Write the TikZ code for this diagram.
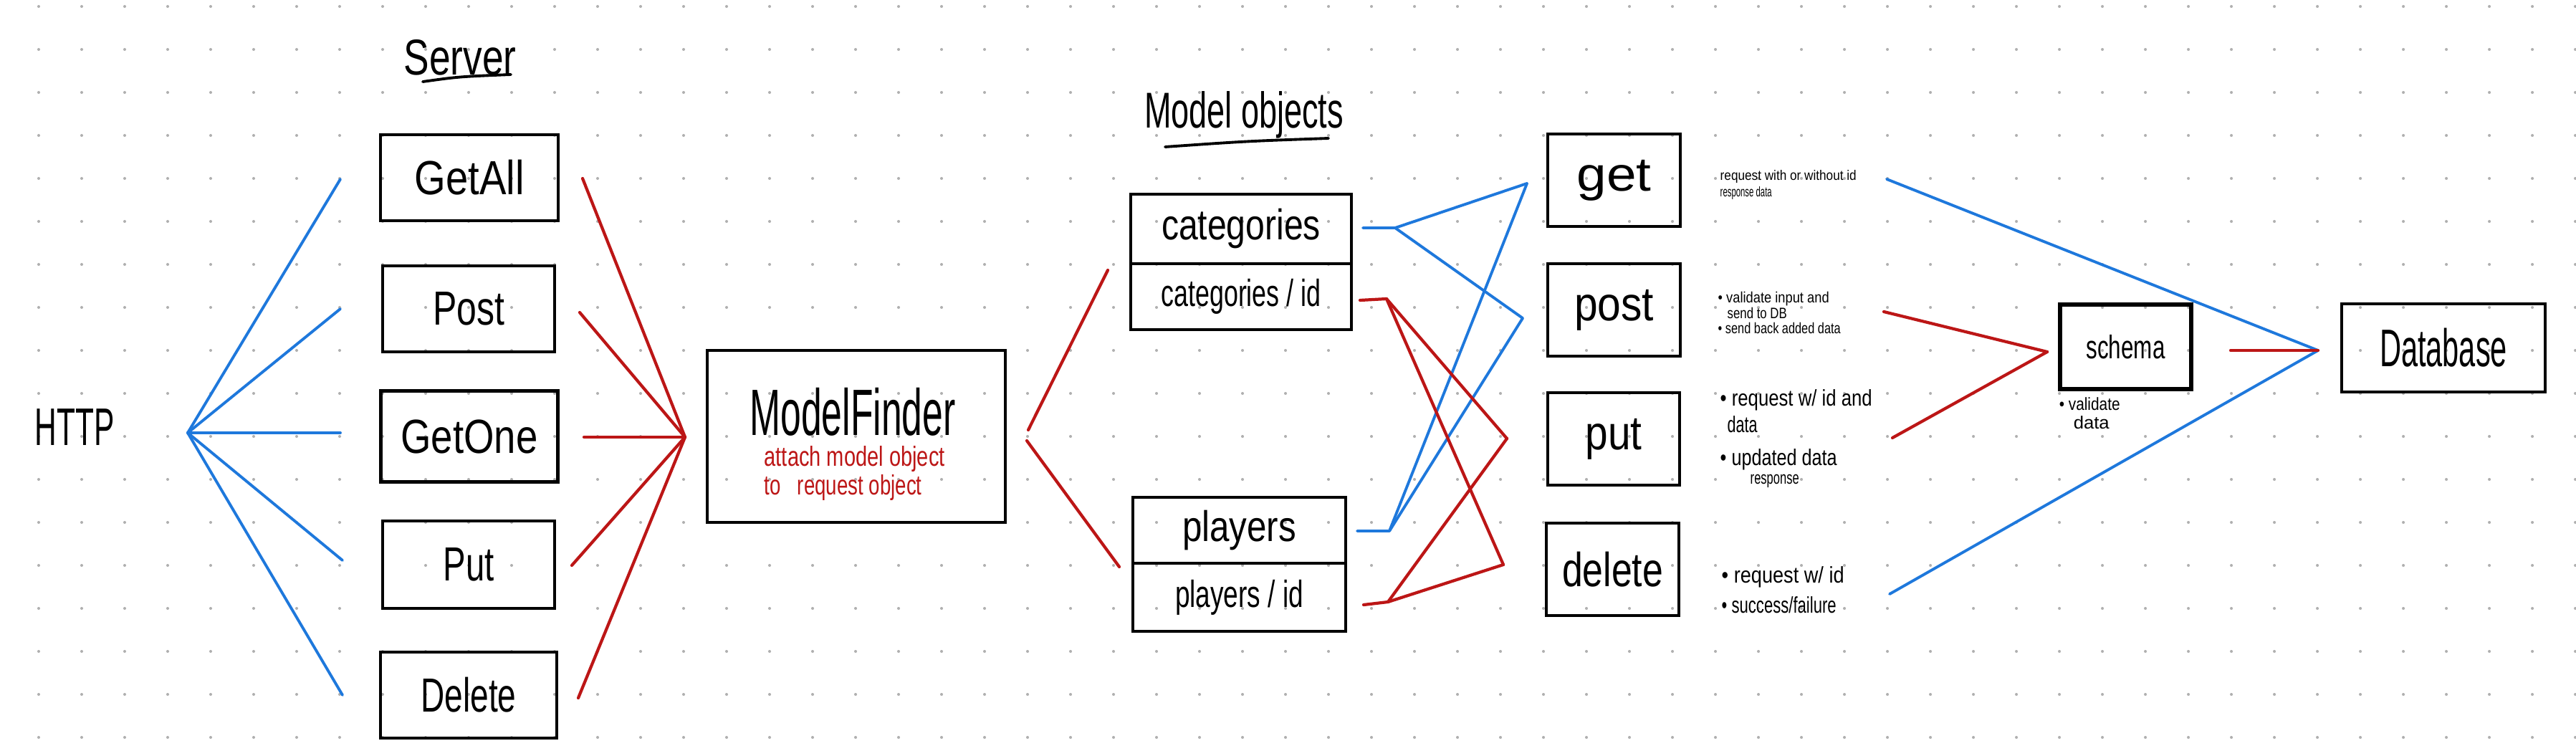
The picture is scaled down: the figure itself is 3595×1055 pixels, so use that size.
\documentclass[tikz,border=0pt]{standalone}
\usepackage{fontspec}
\setmainfont{Liberation Sans}
\usepackage{graphicx}
\newlength\pxu \setlength\pxu{0.01cm}
\newcommand\hw[2]{\resizebox{#1\pxu}{\height}{#2}}
\definecolor{hwblue}{RGB}{30,120,220}
\definecolor{hwred}{RGB}{188,22,22}
\definecolor{dotgray}{RGB}{175,175,175}
\begin{document}
\begin{tikzpicture}[x=0.01cm,y=-0.01cm,
  bx/.style 2 args={draw=black, line width=1.25pt, rectangle, inner sep=0pt,
     minimum width=#1\pxu, minimum height=#2\pxu, font=\fontsize{19}{22}\selectfont},
  bl/.style={draw=hwblue, line width=1.1pt, line cap=round, line join=round},
  rd/.style={draw=hwred, line width=1.2pt, line cap=round, line join=round},
  lbl/.style={inner sep=0pt, text=black},
  note/.style={inner sep=0pt, text=black, align=left, anchor=north west}]
\fill[white] (0,0) rectangle (3595,1055);
\useasboundingbox (0,0) rectangle (3595,1055);
% dot grid
\foreach \i in {0,...,59}{\foreach \j in {0,...,17}{
  \fill[dotgray] (54+60*\i,9+60*\j) circle[radius=0.02cm];}}

% ---------- labels
\node[lbl, font=\fontsize{21}{24}\selectfont] (http) at (104,596) {\hw{111}{HTTP}};
\node[lbl, font=\fontsize{20}{24}\selectfont] (serverlbl) at (642,80) {\hw{157}{Server}};
\draw[line width=1.1pt, line cap=round] (590,114) .. controls (640,107) .. (713,104);
\node[lbl, font=\fontsize{20}{24}\selectfont] (modellbl) at (1736,160) {\hw{278}{Model objects}};
\draw[line width=1.1pt, line cap=round] (1626,205) .. controls (1740,197) .. (1854,193);

% ---------- server boxes
\node[bx={248}{120}] (getall) at (655,248) {\hw{153}{GetAll}};
\node[bx={240}{120}] (post)   at (654,431) {\hw{100}{Post}};
\node[bx={247}{127}] (getone) at (655,609) {\hw{191}{GetOne}};
\node[bx={240}{122}] (put)    at (654,788) {\hw{71}{Put}};
\node[bx={246}{120}] (delete) at (654,970) {\hw{133}{Delete}};

% ---------- ModelFinder
\node[bx={416}{240}] (mf) at (1195,609) {};
\node[lbl, font=\fontsize{26}{30}\selectfont] (mftitle) at (1190,575) {\hw{287}{ModelFinder}};
\node[note, text=hwred, font=\fontsize{11}{9.5}\selectfont] (mfnote) at (1066,622)
  {\hw{252}{attach model object}\\\hw{220}{to \ \ request object}};

% ---------- model objects
\node[bx={308}{97}] (cat)   at (1732,319.5) {\fontsize{17}{20}\selectfont\hw{222}{categories}};
\node[bx={308}{92}] (catid) at (1732,414)   {\fontsize{15}{18}\selectfont\hw{223}{categories / id}};
\node[bx={297}{92}] (pl)    at (1729.5,740) {\fontsize{17}{20}\selectfont\hw{159}{players}};
\node[bx={297}{95}] (plid)  at (1729.5,833.5) {\fontsize{15}{18}\selectfont\hw{179}{players / id}};

% ---------- methods
\node[bx={185}{129}] (mget)  at (2252.5,251.5) {\hw{104}{get}};
\node[bx={185}{129}] (mpost) at (2252.5,432.5) {\hw{111}{post}};
\node[bx={184}{129}] (mput)  at (2252,612.5)   {\hw{79}{put}};
\node[bx={185}{129}] (mdel)  at (2250.5,794.5) {\hw{141}{delete}};

% ---------- notes
\node[note, font=\fontsize{5.5}{6.6}\selectfont] (getnote) at (2400,237)
  {\hw{190}{request with or without id}\\\hw{72}{response data}};
\node[note, font=\fontsize{6}{6}\selectfont] (postnote) at (2397,407)
  {\hw{155}{• validate input and}\\\hspace{13\pxu}\hw{83}{send to DB}\\\hw{171}{• send back added data}};
\node[note, font=\fontsize{9}{10.5}\selectfont] (putnote) at (2400,543)
  {\hw{212}{• request w/ id and}\\\hspace{10\pxu}\hw{42}{data}\\[2.5pt]\hw{163}{• updated data}\\[-3pt]\hspace{42\pxu}{\fontsize{7}{8}\selectfont\hw{68}{response}}};
\node[note, font=\fontsize{9}{12}\selectfont] (delnote) at (2402,790)
  {\hw{171}{• request w/ id}\\\hw{160}{• success/failure}};

% ---------- schema / database
\node[bx={183}{118}, line width=1.5pt] (schema) at (2966.5,484) {\fontsize{13}{16}\selectfont\hw{110}{schema}};
\node[note, font=\fontsize{7}{7.4}\selectfont] (schemanote) at (2873,554)
  {\hw{85}{• validate}\\\hspace{20\pxu}\hw{50}{data}};
\node[bx={284}{123}] (db) at (3410,485.5) {\fontsize{21}{24}\selectfont\hw{178}{Database}};

% ---------- connector end points
\coordinate (httpfan) at (262,604);
\coordinate (b1) at (475,250); \coordinate (b2) at (475,431);
\coordinate (b3) at (475,604); \coordinate (b4) at (478,782);
\coordinate (b5) at (478,970);
\coordinate (r1) at (813,249); \coordinate (r2) at (809,436);
\coordinate (r3) at (815,610); \coordinate (r4) at (798,789);
\coordinate (r5) at (807,974);
\coordinate (mfin) at (956,610);
\coordinate (mfout1) at (1435,600); \coordinate (catin) at (1546,377);
\coordinate (mfout2) at (1433,615); \coordinate (plin) at (1562,791);
\coordinate (catstub) at (1902,318); \coordinate (catj) at (1947,318);
\coordinate (plstub) at (1894,741); \coordinate (plj) at (1939,741);
\coordinate (cistub) at (1898,419); \coordinate (cij) at (1935,417);
\coordinate (pistub) at (1903,844); \coordinate (pij) at (1937,840);
\coordinate (getin) at (2131,256); \coordinate (postin) at (2125,444);
\coordinate (putin) at (2103,612); \coordinate (delin) at (2098,788);
\coordinate (getout) at (2633,250); \coordinate (delout) at (2637,829);
\coordinate (postout) at (2629,435); \coordinate (putout) at (2641,611);
\coordinate (schin) at (2857,491); \coordinate (schout) at (3113,489);
\coordinate (dbin) at (3235,489);

% ---------- connectors
\foreach \b in {b1,b2,b3,b4,b5} \draw[bl] (httpfan) -- (\b);
\foreach \r in {r1,r2,r3,r4,r5} \draw[rd] (\r) -- (mfin);
\draw[rd] (mfout1) -- (catin);
\draw[rd] (mfout2) -- (plin);
\draw[bl] (catstub) -- (catj) -- (getin);
\draw[bl] (catj) -- (postin);
\draw[bl] (plstub) -- (plj) -- (getin);
\draw[bl] (plj) -- (postin);
\draw[rd] (cistub) -- (cij) -- (putin);
\draw[rd] (cij) -- (delin);
\draw[rd] (pistub) -- (pij) -- (putin);
\draw[rd] (pij) -- (delin);
\draw[bl] (getout) -- (dbin);
\draw[bl] (delout) -- (dbin);
\draw[rd] (postout) -- (schin);
\draw[rd] (putout) -- (schin);
\draw[rd] (schout) -- (dbin);
\end{tikzpicture}
\end{document}
